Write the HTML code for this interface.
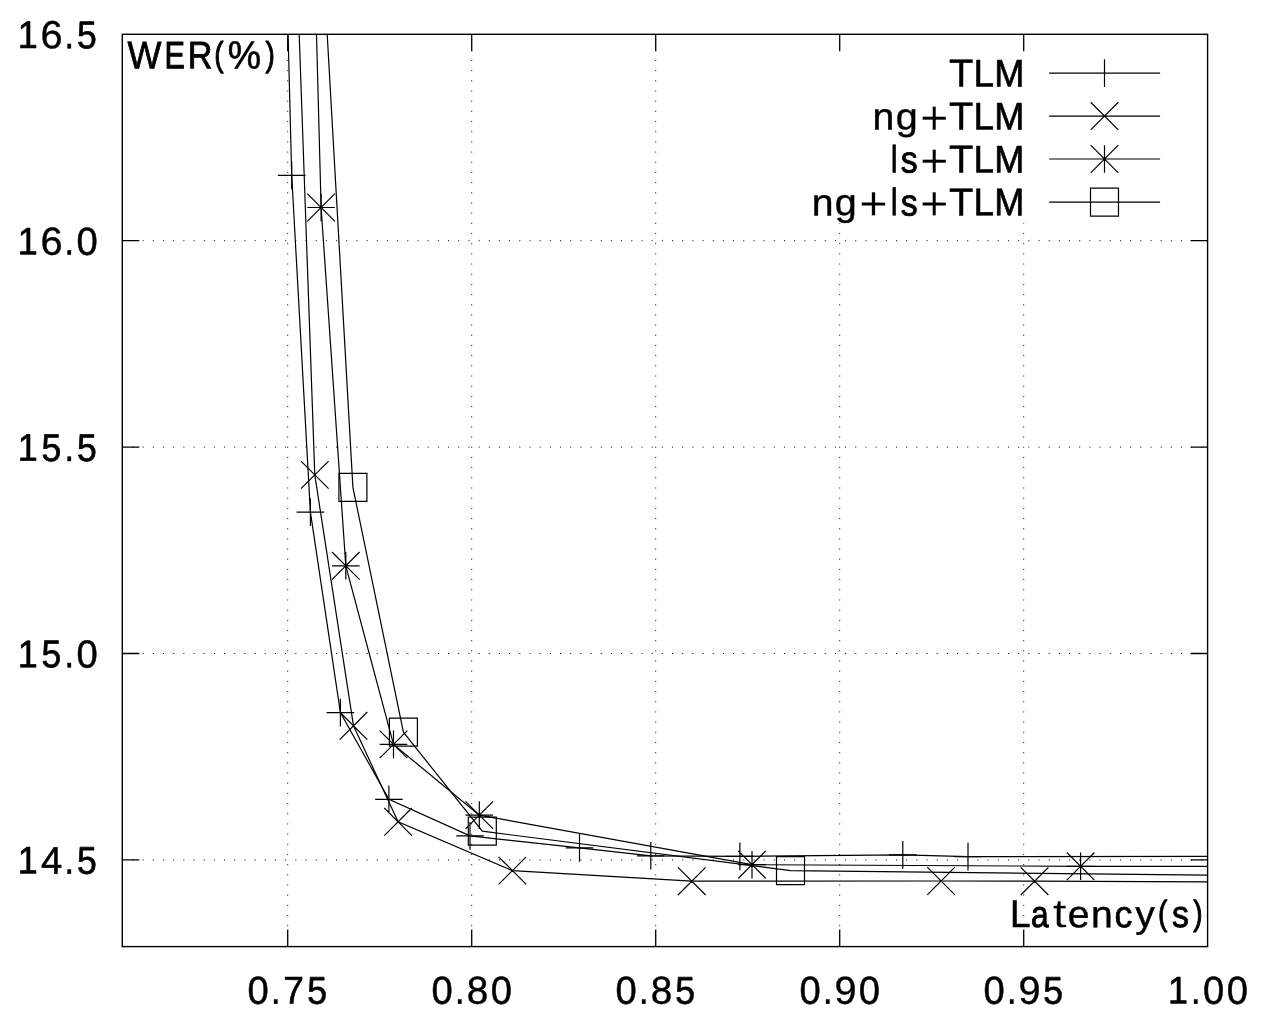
<!DOCTYPE html>
<html><head><meta charset="utf-8"><title>WER vs Latency</title>
<style>html,body{margin:0;padding:0;background:#fff;}svg{display:block;will-change:transform;}text{font-family:"Liberation Sans",sans-serif;text-rendering:geometricPrecision;}</style>
</head><body>
<svg width="1264" height="1020" viewBox="0 0 1264 1020">
<defs><clipPath id="pc"><rect x="122.3" y="34.3" width="1085.3" height="912.3000000000001"/></clipPath></defs>
<rect width="1264" height="1020" fill="#fff"/>
<path d="M287.70 946.6V34.3 M471.70 946.6V34.3 M655.70 946.6V34.3 M839.70 946.6V34.3 M1023.70 946.6V34.3 M122.3 240.70H1207.6 M122.3 447.10H1207.6 M122.3 653.50H1207.6 M122.3 859.90H1207.6" stroke="#000" stroke-width="1" stroke-dasharray="1 9.18" fill="none"/>
<rect x="700" y="34.8" width="507.0999999999999" height="188.5" fill="#fff"/>
<path d="M287.70 946.6v-17M287.70 34.3v17M471.70 946.6v-17M471.70 34.3v17M655.70 946.6v-17M655.70 34.3v17M839.70 946.6v-17M839.70 34.3v17M1023.70 946.6v-17M1023.70 34.3v17M122.3 240.70h17M1207.6 240.70h-17M122.3 447.10h17M1207.6 447.10h-17M122.3 653.50h17M1207.6 653.50h-17M122.3 859.90h17M1207.6 859.90h-17" stroke="#000" stroke-width="1.3" fill="none"/>
<g clip-path="url(#pc)" stroke="#000" stroke-width="1.2" fill="none">
<path d="M288.10 34.40 L291.70 175.40 L310.40 512.20 L340.40 712.60 L388.90 799.30 L470.00 835.90 L579.50 847.90 L650.80 855.80 L739.90 856.40 L902.80 854.90 L968.00 856.60 L1207.60 856.40"/>
<path d="M299.20 34.40 L314.80 474.90 L353.50 725.80 L398.10 821.80 L512.40 870.60 L691.80 881.20 L941.10 881.00 L1034.60 881.20 L1207.60 881.90"/>
<path d="M316.50 34.40 L321.10 207.50 L345.80 565.80 L393.50 744.40 L479.30 815.10 L752.00 864.70 L1080.60 866.30 L1207.60 866.40"/>
<path d="M327.20 34.40 L352.90 487.30 L403.40 732.20 L482.30 831.20 L790.50 870.60 L1207.60 875.10"/>
</g>
<path d="M277.90 175.40h27.60M291.70 161.60v27.60M296.60 512.20h27.60M310.40 498.40v27.60M326.60 712.60h27.60M340.40 698.80v27.60M375.10 799.30h27.60M388.90 785.50v27.60M456.20 835.90h27.60M470.00 822.10v27.60M565.70 847.90h27.60M579.50 834.10v27.60M637.00 855.80h27.60M650.80 842.00v27.60M726.10 856.40h27.60M739.90 842.60v27.60M889.00 854.90h27.60M902.80 841.10v27.60M954.20 856.60h27.60M968.00 842.80v27.60M301.00 461.10l27.60 27.60M301.00 488.70l27.60 -27.60M339.70 712.00l27.60 27.60M339.70 739.60l27.60 -27.60M384.30 808.00l27.60 27.60M384.30 835.60l27.60 -27.60M498.60 856.80l27.60 27.60M498.60 884.40l27.60 -27.60M678.00 867.40l27.60 27.60M678.00 895.00l27.60 -27.60M927.30 867.20l27.60 27.60M927.30 894.80l27.60 -27.60M1020.80 867.40l27.60 27.60M1020.80 895.00l27.60 -27.60M307.30 207.50h27.60M321.10 193.70v27.60M307.30 193.70l27.60 27.60M307.30 221.30l27.60 -27.60M332.00 565.80h27.60M345.80 552.00v27.60M332.00 552.00l27.60 27.60M332.00 579.60l27.60 -27.60M379.70 744.40h27.60M393.50 730.60v27.60M379.70 730.60l27.60 27.60M379.70 758.20l27.60 -27.60M465.50 815.10h27.60M479.30 801.30v27.60M465.50 801.30l27.60 27.60M465.50 828.90l27.60 -27.60M738.20 864.70h27.60M752.00 850.90v27.60M738.20 850.90l27.60 27.60M738.20 878.50l27.60 -27.60M1066.80 866.30h27.60M1080.60 852.50v27.60M1066.80 852.50l27.60 27.60M1066.80 880.10l27.60 -27.60M338.90 473.30h28.00v28.00h-28.00ZM389.40 718.20h28.00v28.00h-28.00ZM468.30 817.20h28.00v28.00h-28.00ZM776.50 856.60h28.00v28.00h-28.00Z" stroke="#000" stroke-width="1.2" fill="none"/>
<path d="M1049.1 73.10H1160.1M1049.1 116.05H1160.1M1049.1 159.00H1160.1M1049.1 202.05H1160.1M1090.70 73.10h27.60M1104.50 59.30v27.60M1090.70 102.25l27.60 27.60M1090.70 129.85l27.60 -27.60M1090.70 159.00h27.60M1104.50 145.20v27.60M1090.70 145.20l27.60 27.60M1090.70 172.80l27.60 -27.60M1090.50 188.05h28.00v28.00h-28.00Z" stroke="#000" stroke-width="1.2" fill="none"/>
<rect x="122.3" y="34.3" width="1085.3" height="912.3000000000001" fill="none" stroke="#000" stroke-width="1.4"/>
<g font-family="Liberation Sans" font-size="40.0" fill="#000" stroke-linejoin="round"><text transform="matrix(0.8982 0.00090 -0.00096 0.9615 17.70 48.02)" stroke="#000" stroke-width="0.71">1</text><text transform="matrix(0.9939 0.00099 -0.00098 0.9800 40.46 48.30)" stroke="#000" stroke-width="0.39">6</text><text transform="matrix(0.8981 0.00090 -0.00098 0.9823 64.26 48.14)" stroke="#000" stroke-width="0.44">.</text><text transform="matrix(0.8884 0.00089 -0.00097 0.9655 76.98 48.15)" stroke="#000" stroke-width="0.75">5</text><text transform="matrix(0.8982 0.00090 -0.00096 0.9615 17.70 254.42)" stroke="#000" stroke-width="0.71">1</text><text transform="matrix(0.9939 0.00099 -0.00098 0.9800 40.46 254.70)" stroke="#000" stroke-width="0.39">6</text><text transform="matrix(0.8981 0.00090 -0.00098 0.9823 64.26 254.54)" stroke="#000" stroke-width="0.44">.</text><text transform="matrix(0.9540 0.00095 -0.00098 0.9757 76.40 254.64)" stroke="#000" stroke-width="0.52">0</text><text transform="matrix(0.8982 0.00090 -0.00096 0.9615 17.70 460.82)" stroke="#000" stroke-width="0.71">1</text><text transform="matrix(0.8884 0.00089 -0.00097 0.9655 41.49 460.95)" stroke="#000" stroke-width="0.75">5</text><text transform="matrix(0.8981 0.00090 -0.00098 0.9823 64.26 460.94)" stroke="#000" stroke-width="0.44">.</text><text transform="matrix(0.8884 0.00089 -0.00097 0.9655 76.98 460.95)" stroke="#000" stroke-width="0.75">5</text><text transform="matrix(0.8982 0.00090 -0.00096 0.9615 17.70 667.22)" stroke="#000" stroke-width="0.71">1</text><text transform="matrix(0.8884 0.00089 -0.00097 0.9655 41.49 667.35)" stroke="#000" stroke-width="0.75">5</text><text transform="matrix(0.8981 0.00090 -0.00098 0.9823 64.26 667.34)" stroke="#000" stroke-width="0.44">.</text><text transform="matrix(0.9540 0.00095 -0.00098 0.9757 76.40 667.44)" stroke="#000" stroke-width="0.52">0</text><text transform="matrix(0.8982 0.00090 -0.00096 0.9615 17.70 873.62)" stroke="#000" stroke-width="0.71">1</text><text transform="matrix(0.9555 0.00096 -0.00097 0.9672 40.88 873.70)" stroke="#000" stroke-width="0.52">4</text><text transform="matrix(0.8981 0.00090 -0.00098 0.9823 64.26 873.74)" stroke="#000" stroke-width="0.44">.</text><text transform="matrix(0.8884 0.00089 -0.00097 0.9655 76.98 873.75)" stroke="#000" stroke-width="0.75">5</text><text transform="matrix(0.9540 0.00095 -0.00098 0.9757 247.50 1003.79)" stroke="#000" stroke-width="0.52">0</text><text transform="matrix(0.8981 0.00090 -0.00098 0.9823 270.86 1003.69)" stroke="#000" stroke-width="0.44">.</text><text transform="matrix(0.9271 0.00093 -0.00096 0.9644 283.22 1003.61)" stroke="#000" stroke-width="0.61">7</text><text transform="matrix(0.8884 0.00089 -0.00097 0.9655 307.24 1003.70)" stroke="#000" stroke-width="0.75">5</text><text transform="matrix(0.9540 0.00095 -0.00098 0.9757 431.50 1003.79)" stroke="#000" stroke-width="0.52">0</text><text transform="matrix(0.8981 0.00090 -0.00098 0.9823 454.86 1003.69)" stroke="#000" stroke-width="0.44">.</text><text transform="matrix(0.9661 0.00097 -0.00098 0.9770 466.86 1003.81)" stroke="#000" stroke-width="0.48">8</text><text transform="matrix(0.9540 0.00095 -0.00098 0.9757 490.66 1003.79)" stroke="#000" stroke-width="0.52">0</text><text transform="matrix(0.9540 0.00095 -0.00098 0.9757 615.50 1003.79)" stroke="#000" stroke-width="0.52">0</text><text transform="matrix(0.8981 0.00090 -0.00098 0.9823 638.86 1003.69)" stroke="#000" stroke-width="0.44">.</text><text transform="matrix(0.9661 0.00097 -0.00098 0.9770 650.86 1003.81)" stroke="#000" stroke-width="0.48">8</text><text transform="matrix(0.8884 0.00089 -0.00097 0.9655 675.24 1003.70)" stroke="#000" stroke-width="0.75">5</text><text transform="matrix(0.9540 0.00095 -0.00098 0.9757 799.50 1003.79)" stroke="#000" stroke-width="0.52">0</text><text transform="matrix(0.8981 0.00090 -0.00098 0.9823 822.86 1003.69)" stroke="#000" stroke-width="0.44">.</text><text transform="matrix(0.9915 0.00099 -0.00098 0.9797 834.46 1003.85)" stroke="#000" stroke-width="0.40">9</text><text transform="matrix(0.9540 0.00095 -0.00098 0.9757 858.66 1003.79)" stroke="#000" stroke-width="0.52">0</text><text transform="matrix(0.9540 0.00095 -0.00098 0.9757 983.50 1003.79)" stroke="#000" stroke-width="0.52">0</text><text transform="matrix(0.8981 0.00090 -0.00098 0.9823 1006.86 1003.69)" stroke="#000" stroke-width="0.44">.</text><text transform="matrix(0.9915 0.00099 -0.00098 0.9797 1018.46 1003.85)" stroke="#000" stroke-width="0.40">9</text><text transform="matrix(0.8884 0.00089 -0.00097 0.9655 1043.24 1003.70)" stroke="#000" stroke-width="0.75">5</text><text transform="matrix(0.8982 0.00090 -0.00096 0.9615 1167.97 1003.57)" stroke="#000" stroke-width="0.71">1</text><text transform="matrix(0.8981 0.00090 -0.00098 0.9823 1190.86 1003.69)" stroke="#000" stroke-width="0.44">.</text><text transform="matrix(0.9540 0.00095 -0.00098 0.9757 1202.99 1003.79)" stroke="#000" stroke-width="0.52">0</text><text transform="matrix(0.9540 0.00095 -0.00098 0.9757 1226.66 1003.79)" stroke="#000" stroke-width="0.52">0</text><text transform="matrix(0.8975 0.00090 -0.00096 0.9590 127.61 68.24)" stroke="#000" stroke-width="0.78">W</text><text transform="matrix(0.7645 0.00076 -0.00095 0.9527 164.54 68.15)" stroke="#000" stroke-width="1.05">E</text><text transform="matrix(0.8548 0.00085 -0.00096 0.9555 187.71 68.19)" stroke="#000" stroke-width="0.91">R</text><text transform="matrix(0.7013 0.00070 -0.00086 0.8649 214.21 65.89)" stroke="#000" stroke-width="1.15">(</text><text transform="matrix(0.9369 0.00094 -0.00098 0.9841 227.82 68.60)" stroke="#000" stroke-width="0.62">%</text><text transform="matrix(0.7013 0.00070 -0.00086 0.8649 265.42 65.89)" stroke="#000" stroke-width="1.15">)</text><text transform="matrix(0.9235 0.00092 -0.00096 0.9641 1009.96 927.06)" stroke="#000" stroke-width="0.62">L</text><text transform="matrix(0.7925 0.00079 -0.00093 0.9337 1031.11 927.06)" stroke="#000" stroke-width="1.04">a</text><text transform="matrix(1.2841 0.00128 -0.00101 1.0141 1052.58 927.24)" stroke="#fff" stroke-width="0.37">t</text><text transform="matrix(0.9822 0.00098 -0.00096 0.9557 1067.75 927.29)" stroke="#000" stroke-width="0.43">e</text><text transform="matrix(0.9777 0.00098 -0.00095 0.9482 1091.04 927.14)" stroke="#000" stroke-width="0.44">n</text><text transform="matrix(0.8943 0.00089 -0.00094 0.9442 1114.49 927.17)" stroke="#000" stroke-width="0.73">c</text><text transform="matrix(0.9766 0.00098 -0.00094 0.9392 1135.31 927.07)" stroke="#000" stroke-width="0.46">y</text><text transform="matrix(0.7013 0.00070 -0.00086 0.8649 1158.00 924.64)" stroke="#000" stroke-width="1.15">(</text><text transform="matrix(0.8447 0.00084 -0.00094 0.9400 1172.09 927.10)" stroke="#000" stroke-width="0.91">s</text><text transform="matrix(0.7013 0.00070 -0.00086 0.8649 1193.25 924.64)" stroke="#000" stroke-width="1.15">)</text><text transform="matrix(0.9973 0.00100 -0.00097 0.9715 949.08 86.61)" stroke="#000" stroke-width="0.39">T</text><text transform="matrix(0.9235 0.00092 -0.00096 0.9641 973.53 86.51)" stroke="#000" stroke-width="0.62">L</text><text transform="matrix(0.9015 0.00090 -0.00096 0.9604 994.37 86.45)" stroke="#000" stroke-width="0.74">M</text><text transform="matrix(0.9777 0.00098 -0.00095 0.9482 872.52 129.59)" stroke="#000" stroke-width="0.44">n</text><text transform="matrix(0.9887 0.00099 -0.00095 0.9466 895.70 129.48)" stroke="#000" stroke-width="0.41">g</text><text transform="matrix(1.2178 0.00122 -0.00121 1.2112 920.09 134.25)" stroke="#fff" stroke-width="0.31">+</text><text transform="matrix(0.9973 0.00100 -0.00097 0.9715 949.08 129.61)" stroke="#000" stroke-width="0.39">T</text><text transform="matrix(0.9235 0.00092 -0.00096 0.9641 973.53 129.51)" stroke="#000" stroke-width="0.62">L</text><text transform="matrix(0.9015 0.00090 -0.00096 0.9604 994.37 129.45)" stroke="#000" stroke-width="0.74">M</text><text transform="matrix(0.7778 0.00078 -0.00095 0.9542 890.72 172.45)" stroke="#000" stroke-width="0.70">l</text><text transform="matrix(0.8447 0.00084 -0.00094 0.9400 900.82 172.50)" stroke="#000" stroke-width="0.91">s</text><text transform="matrix(1.2178 0.00122 -0.00121 1.2112 920.09 177.20)" stroke="#fff" stroke-width="0.31">+</text><text transform="matrix(0.9973 0.00100 -0.00097 0.9715 949.08 172.56)" stroke="#000" stroke-width="0.39">T</text><text transform="matrix(0.9235 0.00092 -0.00096 0.9641 973.53 172.46)" stroke="#000" stroke-width="0.62">L</text><text transform="matrix(0.9015 0.00090 -0.00096 0.9604 994.37 172.40)" stroke="#000" stroke-width="0.74">M</text><text transform="matrix(0.9777 0.00098 -0.00095 0.9482 811.64 215.44)" stroke="#000" stroke-width="0.44">n</text><text transform="matrix(0.9887 0.00099 -0.00095 0.9466 834.81 215.33)" stroke="#000" stroke-width="0.41">g</text><text transform="matrix(1.2178 0.00122 -0.00121 1.2112 859.21 220.10)" stroke="#fff" stroke-width="0.31">+</text><text transform="matrix(0.7778 0.00078 -0.00095 0.9542 890.72 215.35)" stroke="#000" stroke-width="0.70">l</text><text transform="matrix(0.8447 0.00084 -0.00094 0.9400 900.82 215.40)" stroke="#000" stroke-width="0.91">s</text><text transform="matrix(1.2178 0.00122 -0.00121 1.2112 920.09 220.10)" stroke="#fff" stroke-width="0.31">+</text><text transform="matrix(0.9973 0.00100 -0.00097 0.9715 949.08 215.46)" stroke="#000" stroke-width="0.39">T</text><text transform="matrix(0.9235 0.00092 -0.00096 0.9641 973.53 215.36)" stroke="#000" stroke-width="0.62">L</text><text transform="matrix(0.9015 0.00090 -0.00096 0.9604 994.37 215.30)" stroke="#000" stroke-width="0.74">M</text></g>
</svg>
</body></html>
